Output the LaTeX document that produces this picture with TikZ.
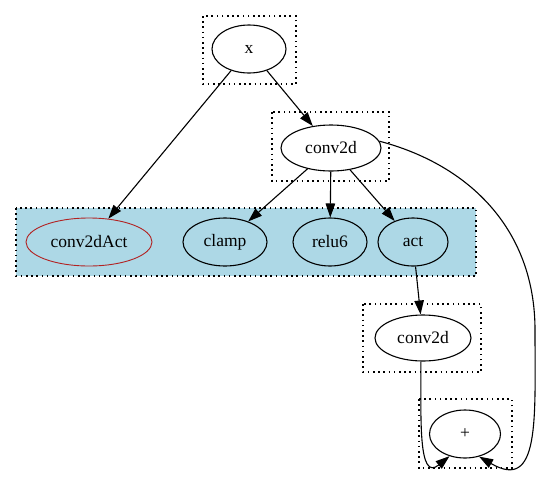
\documentclass[tikz,border=0pt]{standalone}
\usepackage{fontspec}
\setmainfont{Liberation Serif}
\usetikzlibrary{arrows.meta,shapes.geometric}
\begin{document}
\begin{tikzpicture}[x=1pt,y=-1pt,
  nd/.style={ellipse,draw,line width=1.1pt,inner sep=0pt,font=\fontsize{17.5}{20}\selectfont},
  clus/.style={draw,line width=1.1pt,dash pattern=on 1.6pt off 3.6pt},
  arr/.style={line width=1.1pt,-{Triangle[length=14pt,width=9.5pt]}}]
\useasboundingbox (0,0) rectangle (543,485);
% clusters
\draw[clus] (203,16) rectangle (296,84);
\draw[clus] (272,112) rectangle (389,181);
\draw[clus,fill={rgb,255:red,173;green,216;blue,230}] (16,208) rectangle (476,276);
\draw[clus] (363,304) rectangle (481,372);
\draw[clus] (419,399) rectangle (512,468);
% nodes
\node[nd,minimum width=74pt,minimum height=48pt] (x) at (249,49) {x};
\node[nd,minimum width=100pt,minimum height=46pt] (c1) at (331,148) {conv2d};
\node[nd,draw={rgb,255:red,178;green,34;blue,34},line width=0.9pt,minimum width=126pt,minimum height=48pt] (ca) at (89,242) {conv2dAct};
\node[nd,minimum width=84pt,minimum height=48pt] (cl) at (225,242) {clamp};
\node[nd,minimum width=74pt,minimum height=48pt] (r6) at (330,242) {relu6};
\node[nd,minimum width=70pt,minimum height=48pt] (act) at (413,242) {act};
\node[nd,minimum width=96pt,minimum height=46pt] (c2) at (423,338) {conv2d};
\node[nd,minimum width=71pt,minimum height=48pt] (pl) at (465,434) {+};
% edges
\draw[arr] (x) -- (ca);
\draw[arr] (x) -- (c1);
\draw[arr] (c1) -- (cl);
\draw[arr] (c1) -- (r6);
\draw[arr] (c1) -- (act);
\draw[arr] (act) -- (c2);
\draw[arr] (c2.-95) .. controls (421,420) and (418,482) .. (pl.-125);
\draw[arr] (c1.8) .. controls (470,165) and (535,230) .. (535,330) .. controls (535,420) and (540,492) .. (pl.-58);
\end{tikzpicture}
\end{document}
